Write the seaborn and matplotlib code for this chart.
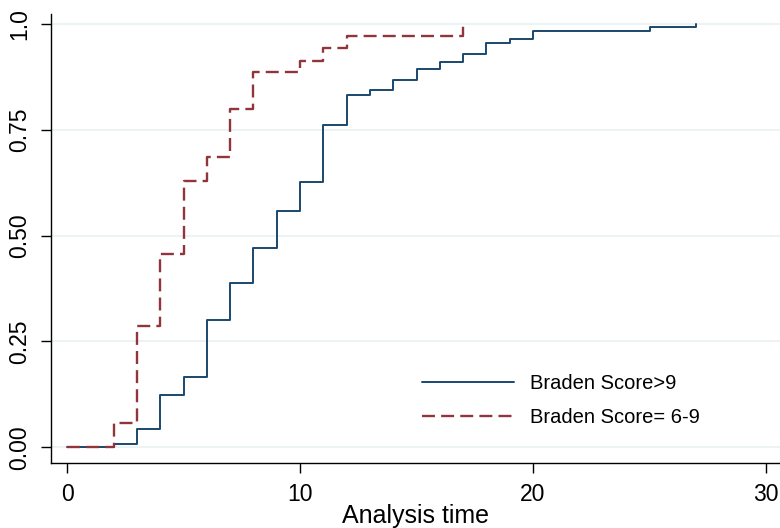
import matplotlib
matplotlib.use("Agg")
import matplotlib.pyplot as plt
import seaborn as sns
import pandas as pd

# Failure curves (1 - KM), step functions
time_hi = [0, 2, 3, 4, 5, 6, 7, 8, 9, 10, 11, 12, 13, 14, 15, 16, 17, 18, 19, 20, 25, 27]
fail_hi = [0.0, 0.008, 0.043, 0.124, 0.167, 0.301, 0.388, 0.470, 0.559, 0.628, 0.761,
           0.832, 0.844, 0.868, 0.894, 0.911, 0.930, 0.956, 0.966, 0.984, 0.993, 1.0]

time_lo = [0, 2, 3, 4, 5, 6, 7, 8, 10, 11, 12, 17]
fail_lo = [0.0, 0.057, 0.286, 0.457, 0.629, 0.686, 0.800, 0.886, 0.914, 0.943, 0.971, 1.0]

label_hi = "Braden Score>9"
label_lo = "Braden Score= 6-9"
xticks = [0, 10, 20, 30]
yticks = [0.0, 0.25, 0.50, 0.75, 1.0]
ytick_labels = ["0.00", "0.25", "0.50", "0.75", "1.0"]

df_hi = pd.DataFrame({"time": time_hi, "fail": fail_hi, "group": label_hi})
df_lo = pd.DataFrame({"time": time_lo, "fail": fail_lo, "group": label_lo})

sns.set_style("white")
plt.rcParams["font.family"] = ["Liberation Sans", "DejaVu Sans"]
plt.rcParams["text.color"] = "black"
plt.rcParams["axes.labelcolor"] = "black"
plt.rcParams["xtick.color"] = "black"
plt.rcParams["ytick.color"] = "black"

fig = plt.figure(figsize=(7.8, 5.28), dpi=100)
ax = fig.add_axes([51/780, 1 - 463.3/528, 1 - 51/780, (463.3 - 14)/528])

blue = "#1A476F"
red = "#90353B"

sns.lineplot(data=df_hi, x="time", y="fail", ax=ax, color=blue, lw=1.4,
             drawstyle="steps-post", estimator=None, sort=False, label=label_hi)
sns.lineplot(data=df_lo, x="time", y="fail", ax=ax, color=red, lw=1.7,
             drawstyle="steps-post", estimator=None, sort=False, label=label_lo,
             dashes=False)
ax.lines[-1].set_dashes((5.5, 2.6))

ax.set_xlim(-0.69, 30.6)
ax.set_ylim(-0.038, 1.024)
ax.set_xticks(xticks)
ax.set_yticks(yticks)
ax.set_yticklabels(ytick_labels, rotation=90, va="center")
ax.tick_params(axis="both", which="major", labelsize=16.5, direction="out",
               length=7, width=1.0, color="black", labelcolor="black",
               left=True, bottom=True)
ax.tick_params(axis="y", pad=7)
ax.tick_params(axis="x", pad=7)

for s in ["top", "right"]:
    ax.spines[s].set_visible(False)
for s in ["left", "bottom"]:
    ax.spines[s].set_color("black")
    ax.spines[s].set_linewidth(1.0)

ax.grid(False)
ax.yaxis.grid(True, color="#EAF2F3", lw=1.3)
ax.set_axisbelow(True)

ax.set_xlabel("Analysis time", fontsize=18, labelpad=-1, color="black")
ax.set_ylabel("")

leg = ax.legend(loc="center left", bbox_to_anchor=(421.7/780, 1 - 400.5/528),
                bbox_transform=fig.transFigure, frameon=False, fontsize=14.5,
                handlelength=4.6, handletextpad=0.8, labelspacing=0.75,
                borderpad=0, borderaxespad=0)
for t in leg.get_texts():
    t.set_color("black")

fig.savefig("out.png", dpi=100)
